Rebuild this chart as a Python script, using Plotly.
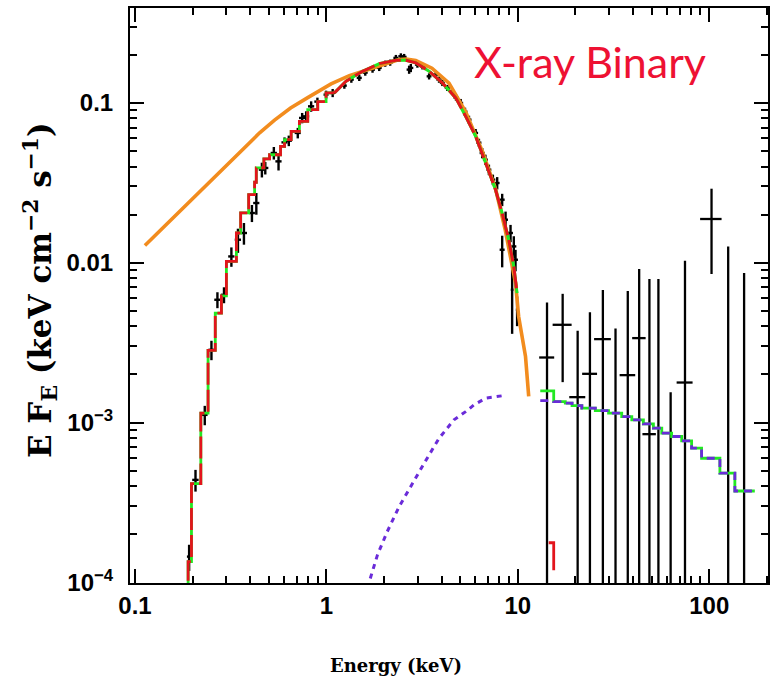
import plotly.graph_objects as go

# ---------------- soft band (0.2-10 keV) unfolded data ----------------
soft_e = [0.1918, 0.2071, 0.2315, 0.2509, 0.2696, 0.2918, 0.3189, 0.3451, 0.3709, 0.4083,
          0.4305, 0.4603, 0.4794, 0.5314, 0.5623, 0.6043, 0.6363, 0.7087, 0.7471, 0.7839,
          0.8324, 0.8977, 0.9963, 1.0784, 1.241, 1.35, 1.485, 1.596, 1.742, 1.888,
          2.029, 2.154, 2.307, 2.449, 2.548, 2.705, 2.761, 2.989, 3.174, 3.44,
          3.727, 3.877, 4.034, 4.283, 4.549, 4.754, 5.03, 5.297, 5.557, 6.021,
          6.264, 6.517, 6.771, 7.063, 7.409, 7.801, 8.285, 8.63, 8.285, 9.162,
          9.532, 9.727, 9.339, 9.917]
soft_de = [0.005, 0.008, 0.008, 0.009, 0.010, 0.011, 0.012, 0.013, 0.014, 0.015,
           0.016, 0.017, 0.018, 0.020, 0.021, 0.022, 0.024, 0.026, 0.028, 0.029,
           0.031, 0.033, 0.030, 0.032, 0.037, 0.040, 0.045, 0.048, 0.052, 0.057,
           0.061, 0.065, 0.069, 0.073, 0.076, 0.081, 0.083, 0.09, 0.095, 0.10,
           0.11, 0.12, 0.12, 0.13, 0.14, 0.14, 0.15, 0.16, 0.17, 0.18,
           0.19, 0.20, 0.20, 0.21, 0.22, 0.23, 0.25, 0.26, 0.25, 0.27,
           0.29, 0.29, 0.15, 0.15]
soft_f = [1.449e-4, 4.377e-4, 1.117e-3, 2.852e-3, 5.866e-3, 6.30e-3, 0.01095, 0.01393, 0.01535, 0.02047,
          0.02364, 0.03822, 0.03917, 0.04862, 0.04308, 0.05665, 0.05805, 0.06489, 0.08055, 0.08243,
          0.09522, 0.1019, 0.1127, 0.1155, 0.1283, 0.1399, 0.1434, 0.1548, 0.1616, 0.1656,
          0.1762, 0.1788, 0.1913, 0.1958, 0.1941, 0.1616, 0.1656, 0.1737, 0.1695, 0.1467,
          0.1503, 0.1399, 0.1334, 0.1242, 0.1182, 0.1080, 0.1000, 0.0882, 0.0786, 0.06489,
          0.0564, 0.04862, 0.04416, 0.03822, 0.0331, 0.03155, 0.0248, 0.01859, 0.01206, 0.01535,
          0.01265, 0.01044, 6.77e-3, 5.08e-3]
soft_sig = [2.7e-5, 6.8e-5, 1.55e-4, 3.96e-4, 6.7e-4, 7.2e-4, 1.52e-3, 2.4e-3, 2.38e-3, 2.5e-3,
            3.66e-3, 4.05e-3, 3.5e-3, 4.4e-3, 5.3e-3, 4.2e-3, 4.4e-3, 4.9e-3, 6.0e-3, 6.2e-3,
            7.1e-3, 6.0e-3, 6.6e-3, 6.8e-3, 5.6e-3, 6.2e-3, 6.3e-3, 6.8e-3, 7.1e-3, 7.3e-3,
            7.8e-3, 7.9e-3, 8.4e-3, 8.6e-3, 8.5e-3, 9.5e-3, 9.8e-3, 7.6e-3, 7.5e-3, 6.5e-3,
            6.6e-3, 6.2e-3, 5.9e-3, 5.5e-3, 5.2e-3, 4.8e-3, 5.9e-3, 5.2e-3, 4.6e-3, 3.8e-3,
            3.3e-3, 3.6e-3, 3.3e-3, 2.9e-3, 2.5e-3, 2.8e-3, 2.2e-3, 2.3e-3, 2.7e-3, 1.9e-3,
            2.0e-3, 1.6e-3, 3.18e-3, 1.07e-3]

# ---------------- hard band (13-170 keV) data ----------------
hard_e = [14.21, 17.15, 20.54, 23.81, 27.82, 32.39, 37.54, 43.05, 48.70, 54.26,
          62.86, 74.7, 102.8, 125.6, 152.1]
hard_de = [1.28, 1.95, 1.97, 2.13, 2.79, 2.9, 3.51, 3.48, 3.93, 3.5,
           4.5, 7.15, 13.2, 9.0, 11.0]
hard_f = [2.553e-3, 4.09e-3, 1.442e-3, 2.018e-3, 3.327e-3, -5e-4, 1.98e-3, 3.376e-3, 8.46e-4, -5e-4,
          -1.5e-3, 1.78e-3, 0.01878, -2e-3, -2e-3]
hard_sig = [3.09e-3, 2.30e-3, 2.31e-3, 2.89e-3, 3.42e-3, 4.38e-3, 4.67e-3, 5.75e-3, 7.06e-3, 8.41e-3,
            3.05e-3, 8.52e-3, 0.01028, 0.01465, 0.01062]

# ---------------- folded model, soft band ----------------
model_bin_edges = [0.180, 0.1895, 0.1973, 0.2208, 0.2409, 0.2627, 0.2829, 0.3003, 0.3387, 0.3565,
                   0.3926, 0.4217, 0.4303, 0.4715, 0.5047, 0.576, 0.6043, 0.6546, 0.7227, 0.799,
                   0.901, 0.996, 1.101]
model_bin_f = [5.0e-5, 1.35e-4, 4.15e-4, 1.146e-3, 2.83e-3, 4.84e-3, 6.2e-3, 0.0102, 0.01535, 0.0205,
               0.0267, 0.0319, 0.0392, 0.0446, 0.0474, 0.0535, 0.0589, 0.0664, 0.0767, 0.0908,
               0.102, 0.1155]
model_curve_e = [1.101, 1.267, 1.545, 1.888, 2.307, 2.601, 2.932, 3.44, 4.034, 4.738,
                 5.34, 6.02, 6.79, 7.65, 8.28, 8.97, 9.53, 9.91]
model_curve_f = [0.1155, 0.1366, 0.1578, 0.1762, 0.1848, 0.1848, 0.178, 0.1578, 0.1334, 0.1075,
                 0.0824, 0.0618, 0.0421, 0.0286, 0.0205, 0.0139, 0.00948, 0.00646]

# ---------------- folded model, hard band ----------------
hard_bin_edges = [13.1, 15.4, 17.7, 19.2, 21.6, 25.4, 29.8, 34.9, 39.4, 45.3,
                  51.1, 56.5, 63.6, 71.8, 80.9, 91.2, 113.7, 136.1, 173.0]
hard_model_f = [1.58e-3, 1.353e-3, 1.322e-3, 1.277e-3, 1.231e-3, 1.189e-3, 1.146e-3, 1.09e-3, 1.04e-3,
                9.82e-4, 9.23e-4, 8.59e-4, 8.18e-4, 7.68e-4, 6.92e-4, 5.98e-4, 4.82e-4, 3.73e-4]
hard_comp_f = [1.37e-3, 1.353e-3, 1.322e-3, 1.277e-3, 1.231e-3, 1.189e-3, 1.146e-3, 1.09e-3, 1.04e-3,
               9.82e-4, 9.23e-4, 8.59e-4, 8.18e-4, 7.68e-4, 6.92e-4, 5.98e-4, 4.82e-4, 3.73e-4]
red_hard_e = [14.5, 15.4]
red_hard_f = [1.77e-4, 1.19e-4]

# ---------------- Comptonised component (soft band) ----------------
comp_e = [1.60, 1.675, 1.85, 2.08, 2.40, 2.81, 3.28, 3.88, 4.64, 5.34, 5.90, 6.79, 8.28]
comp_f = [8.0e-5, 1.01e-4, 1.49e-4, 2.08e-4, 2.98e-4, 4.18e-4, 5.70e-4, 7.98e-4, 1.04e-3,
          1.17e-3, 1.29e-3, 1.42e-3, 1.47e-3]

# ---------------- unabsorbed disc continuum ----------------
disc_e = [0.1127, 0.1616, 0.2409, 0.3596, 0.448, 0.536, 0.65, 0.799, 1.058, 1.318,
          1.957, 2.40, 2.61, 2.93, 3.56, 4.37, 5.34, 6.52, 7.65, 8.6,
          9.73, 10.1, 10.97, 11.4]
disc_f = [0.01283, 0.0196, 0.0314, 0.0506, 0.0650, 0.0780, 0.0930, 0.1079, 0.1314, 0.1480,
          0.174, 0.1866, 0.188, 0.184, 0.165, 0.133, 0.0880, 0.0500, 0.0290, 0.0160,
          0.00746, 0.00461, 0.00259, 0.001456]

x_major = [0.1, 1, 10, 100]
x_major_text = ["0.1", "1", "10", "100"]
y_major = [1e-4, 1e-3, 1e-2, 1e-1]
y_major_text = ["10<sup>\u22124</sup>", "10<sup>\u22123</sup>", "0.01", "0.1"]


def cross_segments(e, de, f, sig, floor=1e-7):
    """Build a single polyline (None separated) of error-bar crosses."""
    xs, ys = [], []
    for ei, dei, fi, si in zip(e, de, f, sig):
        lo = fi - si if fi - si > 0 else floor
        xs += [ei, ei, None]
        ys += [lo, fi + si, None]
        if fi > 0:
            xs += [ei - dei, ei + dei, None]
            ys += [fi, fi, None]
    return xs, ys


def minor_vals(decades):
    return [m * 10.0 ** d for d in decades for m in range(2, 10)]


fig = go.Figure()

sx, sy = cross_segments(soft_e, soft_de, soft_f, soft_sig)
hx, hy = cross_segments(hard_e, hard_de, hard_f, hard_sig)
fig.add_trace(go.Scatter(x=sx, y=sy, mode="lines", line=dict(color="black", width=2.4),
                         hoverinfo="skip"))
fig.add_trace(go.Scatter(x=hx, y=hy, mode="lines", line=dict(color="black", width=2.3),
                         hoverinfo="skip"))

# disc continuum
fig.add_trace(go.Scatter(x=disc_e, y=disc_f, mode="lines",
                         line=dict(color="#F28C1E", width=3.6)))

# model (green solid, red long-dashed on top)
for color, dash in (("#22E822", None), ("#E3141C", "22px,5px")):
    fig.add_trace(go.Scatter(x=model_bin_edges, y=model_bin_f + [model_bin_f[-1]],
                             mode="lines", line_shape="hv",
                             line=dict(color=color, width=2.8, dash=dash)))
    fig.add_trace(go.Scatter(x=model_curve_e, y=model_curve_f, mode="lines",
                             line=dict(color=color, width=3.0, dash=dash)))

fig.add_trace(go.Scatter(x=hard_bin_edges, y=hard_model_f + [hard_model_f[-1]], mode="lines",
                         line_shape="hv", line=dict(color="#22E822", width=2.8)))
fig.add_trace(go.Scatter(x=hard_bin_edges, y=hard_comp_f + [hard_comp_f[-1]], mode="lines",
                         line_shape="hv", line=dict(color="#6A2BD9", width=2.8, dash="8px,6px")))
fig.add_trace(go.Scatter(x=red_hard_e, y=red_hard_f, mode="lines", line_shape="hv",
                         line=dict(color="#E3141C", width=2.8)))

# Comptonised component
fig.add_trace(go.Scatter(x=comp_e, y=comp_f, mode="lines",
                         line=dict(color="#6A2BD9", width=3.0, dash="5px,5px")))

tickfont = dict(family="Liberation Sans", size=24, color="black", weight="bold")
axis_common = dict(type="log", showgrid=False, zeroline=False, showline=True,
                   linecolor="black", linewidth=2, mirror="allticks",
                   ticks="inside", ticklen=14, tickwidth=2, tickcolor="black",
                   tickfont=tickfont, tickmode="array")

fig.update_xaxes(range=[-1.026, 2.307], tickvals=x_major, ticktext=x_major_text,
                 minor=dict(tickmode="array", tickvals=minor_vals([-1, 0, 1, 2]),
                            ticks="inside", ticklen=7, tickwidth=2, tickcolor="black"),
                 **axis_common)
fig.update_yaxes(range=[-4.004, -0.406], tickvals=y_major, ticktext=y_major_text,
                 ticklabelstandoff=10,
                 minor=dict(tickmode="array", tickvals=minor_vals([-4, -3, -2, -1]),
                            ticks="inside", ticklen=7, tickwidth=2, tickcolor="black"),
                 **axis_common)

fig.add_annotation(text="E F<sub>E</sub> (keV cm<sup>\u22122</sup> s<sup>\u22121</sup>)",
                   xref="paper", yref="paper", x=-0.1406, y=0.51, textangle=-90,
                   showarrow=False, xanchor="center", yanchor="middle",
                   font=dict(family="DejaVu Serif", size=31, color="black", weight="bold"))
fig.add_annotation(text="Energy (keV)", xref="paper", yref="paper", x=0.417, y=-0.1427,
                   showarrow=False, xanchor="center", yanchor="middle",
                   font=dict(family="DejaVu Serif", size=18, color="black", weight="bold"))
fig.add_annotation(text="X-ray Binary", xref="paper", yref="paper", x=0.721, y=0.907,
                   showarrow=False, xanchor="center", yanchor="middle",
                   font=dict(family="Lato", size=43, color="#EE1133"))

fig.update_layout(width=776, height=684, margin=dict(l=130, r=6, t=8, b=101),
                  plot_bgcolor="white", paper_bgcolor="white", showlegend=False)

fig.write_html("out.html")
